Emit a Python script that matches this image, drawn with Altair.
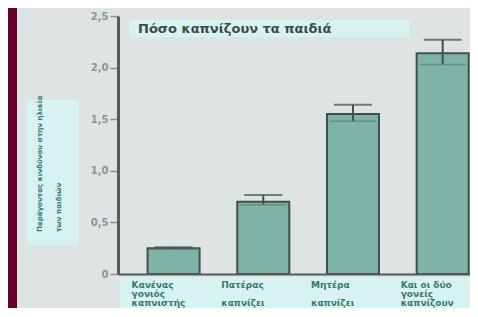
import altair as alt
import pandas as pd

categories = ["Κανένας γονιός καπνιστής", "Πατέρας καπνίζει", "Μητέρα καπνίζει", "Και οι δύο γονείς καπνίζουν"]
label_line1 = ["Κανένας", "Πατέρας", "Μητέρα", "Και οι δύο"]
label_line2 = ["γονιός", "", "", "γονείς"]
label_line3 = ["καπνιστής", "καπνίζει", "καπνίζει", "καπνίζουν"]
values = [0.25, 0.70, 1.55, 2.14]
err_low = [0.24, 0.67, 1.48, 2.03]
err_high = [0.26, 0.765, 1.64, 2.27]
y_ticks = [0, 0.5, 1.0, 1.5, 2.0, 2.5]
title_text = "Πόσο καπνίζουν τα παιδιά"
ylabel_lines = ["Παράγοντας κινδύνου στην ηλικία", "των παιδιών"]

df = pd.DataFrame({"cat": categories, "v": values, "lo": err_low, "hi": err_high,
                   "l1": label_line1, "l2": label_line2, "l3": label_line3})
one = pd.DataFrame({"k": [0]})

W, H = 352, 258
xscale = alt.Scale(domain=categories, paddingInner=0.42, paddingOuter=0.172, align=0.958)
yscale = alt.Scale(domain=[0, 2.5], nice=False)

X = alt.X("cat:N", scale=xscale, title=None, sort=categories,
          axis=alt.Axis(labels=False, ticks=False, domainColor="#555b59", domainWidth=2, zindex=1))
Y = alt.Y("v:Q", scale=yscale, title=None,
          axis=alt.Axis(values=y_ticks, grid=False, tickSize=8, tickColor="#8a9090", tickWidth=1.5,
                        labelExpr="datum.value == 0 ? '0' : replace(format(datum.value, '.1f'), '.', ',')",
                        labelFontSize=10, labelFont="DejaVu Sans", labelFontWeight="bold",
                        labelColor="#8d9494", labelPadding=2,
                        domainColor="#555b59", domainWidth=3, zindex=1))
XC = alt.X("cat:N", scale=xscale, sort=categories)

base = alt.Chart(df)
oneb = alt.Chart(one)

panel = oneb.mark_rect(color="#dde4e3").encode(
    x=alt.value(-101), x2=alt.value(W), y=alt.value(-8), y2=alt.value(300))
xlabbox = oneb.mark_rect(color="#d6f3f2").encode(
    x=alt.value(2), x2=alt.value(W), y=alt.value(261), y2=alt.value(300))
bars = base.mark_bar(fill="#80b3a7", stroke="#3f514c", strokeWidth=2).encode(x=X, y=Y)
rule = base.mark_rule(color="#3f514c", strokeWidth=2).encode(
    x=XC, y=alt.Y("lo:Q", scale=yscale), y2="hi:Q")
cap_hi = base.mark_tick(color="#3f514c", size=38, thickness=2, orient="horizontal").encode(
    x=XC, y=alt.Y("hi:Q", scale=yscale))
cap_lo = base.mark_tick(color="#5f7a73", size=46, thickness=1.5, orient="horizontal").encode(
    x=XC, y=alt.Y("lo:Q", scale=yscale))

lab_style = dict(align="left", baseline="middle", font="DejaVu Sans", fontWeight="bold",
                 fontSize=9, color="#3a7a6e", dx=-42)
lab1 = base.mark_text(**lab_style).encode(x=XC, y=alt.value(269), text="l1:N")
lab2 = base.mark_text(**lab_style).encode(x=XC, y=alt.value(277.5), text="l2:N")
lab3 = base.mark_text(**lab_style).encode(x=XC, y=alt.value(286.5), text="l3:N")

titlebox = oneb.mark_rect(color="#d6f3f2").encode(
    x=alt.value(12), x2=alt.value(292), y=alt.value(4), y2=alt.value(21))
titletxt = oneb.mark_text(align="left", baseline="middle", font="DejaVu Sans", fontWeight="bold",
                          fontSize=13, color="#3c4a48").encode(
    x=alt.value(20), y=alt.value(12.5), text=alt.value(title_text))
ybox = oneb.mark_rect(color="#d6f3f2").encode(
    x=alt.value(-91), x2=alt.value(-40), y=alt.value(84), y2=alt.value(229))
ytxt1 = oneb.mark_text(align="left", baseline="middle", angle=270, font="DejaVu Sans",
                       fontWeight="bold", fontSize=7, color="#3a7a6e").encode(
    x=alt.value(-78), y=alt.value(216), text=alt.value(ylabel_lines[0]))
ytxt2 = oneb.mark_text(align="left", baseline="middle", angle=270, font="DejaVu Sans",
                       fontWeight="bold", fontSize=7, color="#3a7a6e").encode(
    x=alt.value(-59), y=alt.value(216), text=alt.value(ylabel_lines[1]))

chart = alt.layer(panel, xlabbox, ybox, titlebox, bars, rule, cap_lo, cap_hi,
                  lab1, lab2, lab3, titletxt, ytxt1, ytxt2).properties(
    width=W, height=H,
    autosize=alt.AutoSizeParams(type="none"),
    padding={"left": 110, "top": 8, "right": 0, "bottom": 34},
    background="#66002c",
).configure_view(stroke=None)

chart.save("out.html", embed_options={"renderer": "svg", "actions": False})
